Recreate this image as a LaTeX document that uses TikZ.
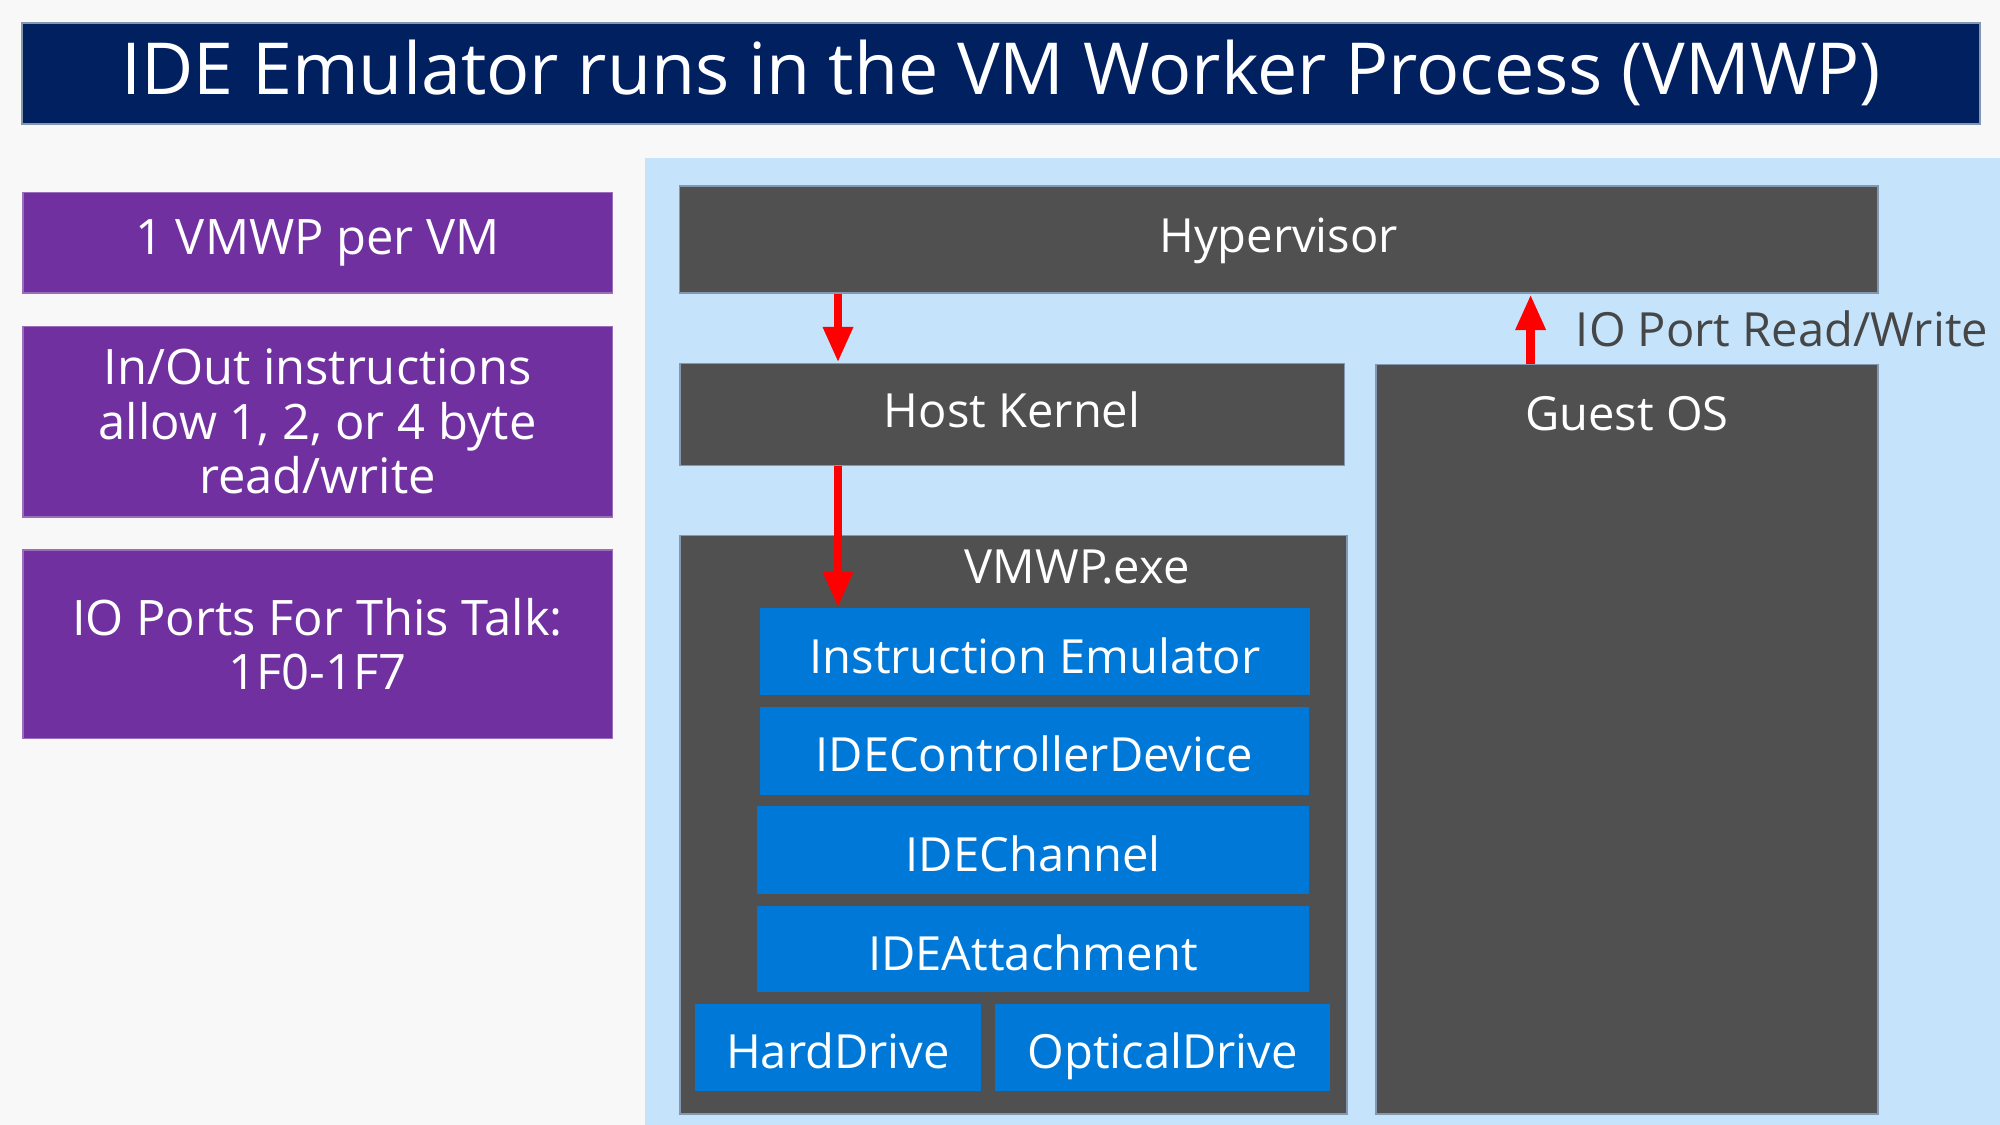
\documentclass[tikz,border=0pt]{standalone}
\usepackage{fontspec}
\setmainfont{Open Sans}
\usepackage{tikz}
\usetikzlibrary{positioning,arrows.meta}
\definecolor{page}{HTML}{F8F8F8}
\definecolor{navy}{HTML}{002060}
\definecolor{plum}{HTML}{7030A0}
\definecolor{sky}{HTML}{C5E4FC}
\definecolor{slate}{HTML}{505050}
\definecolor{azure}{HTML}{0078D7}
\definecolor{edge}{HTML}{8497B0}
\definecolor{ink}{HTML}{464646}
\tikzset{
  txt/.style={text=white, font=\fontsize{10.5pt}{12.1pt}\selectfont},
  title/.style={fill=navy, draw=edge, line width=0.4pt, text=white, font=\fontsize{16pt}{19pt}\selectfont,
    minimum width=15.34cm, minimum height=0.79cm, inner sep=0pt},
  note/.style={txt, font=\fontsize{10.9pt}{12.1pt}\selectfont, fill=plum, draw=plum!70!white, line width=0.4pt,
    minimum width=4.62cm, align=center, inner sep=0pt},
  layer/.style={txt, fill=slate, draw=edge, line width=0.4pt, inner sep=0pt, text height=0.8em, text depth=0.23em},
  part/.style={txt, fill=azure, minimum height=0.68cm, inner sep=0pt, text height=1.15em, text depth=0.2em},
  flow/.style={draw=red, line width=0.07cm, -{Triangle[width=0.22cm,length=0.28cm]}},
  lab/.style={text=ink, font=\fontsize{10.5pt}{12.1pt}\selectfont, inner sep=0pt},
}
\begin{document}
\begin{tikzpicture}[x=0.01cm, y=-0.01cm]
  \useasboundingbox (0,0) rectangle (1568,882);
  \fill[page] (0,0) rectangle (1568,882);
  \fill[sky] (506,124) rectangle (1568,882);
  % title and notes
  \node[title] (head) at (785,57.5) {IDE Emulator runs in the VM Worker Process (VMWP)};
  \node[note, minimum height=0.79cm] (n1) at (249,190.5) {1 VMWP per VM};
  \node[note, minimum height=1.49cm] (n2) at (249,330.5) {In/Out instructions\\allow 1, 2, or 4 byte\\read/write};
  \node[note, minimum height=1.48cm] (n3) at (249,505) {IO Ports For This Talk:\\1F0-1F7};
  % layers
  \node[layer, minimum width=9.39cm, minimum height=0.84cm] (hyp) at (1002.5,188) {Hypervisor};
  \node[layer, minimum width=5.21cm, minimum height=0.80cm] (host) at (793.5,325) {Host Kernel};
  \node[layer, minimum width=3.93cm, minimum height=5.87cm,
    label={[txt,anchor=center,yshift=-0.39cm]north:Guest OS}] (guest) at (1275.5,579.5) {};
  \node[layer, minimum width=5.23cm, minimum height=4.53cm,
    label={[txt,anchor=center,xshift=0.5cm,yshift=-0.25cm]north:VMWP.exe}] (vmwp) at (794.5,646.5) {};
  % parts of the worker process
  \node[part, minimum width=4.31cm] (inst) at (811.5,511) {Instruction Emulator};
  \node[part, minimum width=4.30cm, minimum height=0.69cm] (ctrl) at (811,588.5) {IDEControllerDevice};
  \node[part, minimum width=4.32cm, minimum height=0.69cm] (chan) at (810,666.5) {IDEChannel};
  \node[part, minimum width=4.32cm] (att) at (810,744) {IDEAttachment};
  \node[part, minimum width=2.24cm] (hdd) at (657,821) {HardDrive};
  \node[part, minimum width=2.63cm] (odd) at (911.5,821) {OpticalDrive};
  % arrows
  \coordinate (c1) at (657,0);
  \coordinate (c2) at (1200,0);
  \draw[flow] (hyp.south -| c1) -- (host.north -| c1);
  \draw[flow] (host.south -| c1) -- (inst.north -| c1);
  \draw[flow] (guest.north -| c2) -- (hyp.south -| c2)
    node[midway, lab, right=0.32cm] (io) {IO Port Read/Write};
\end{tikzpicture}
\end{document}
